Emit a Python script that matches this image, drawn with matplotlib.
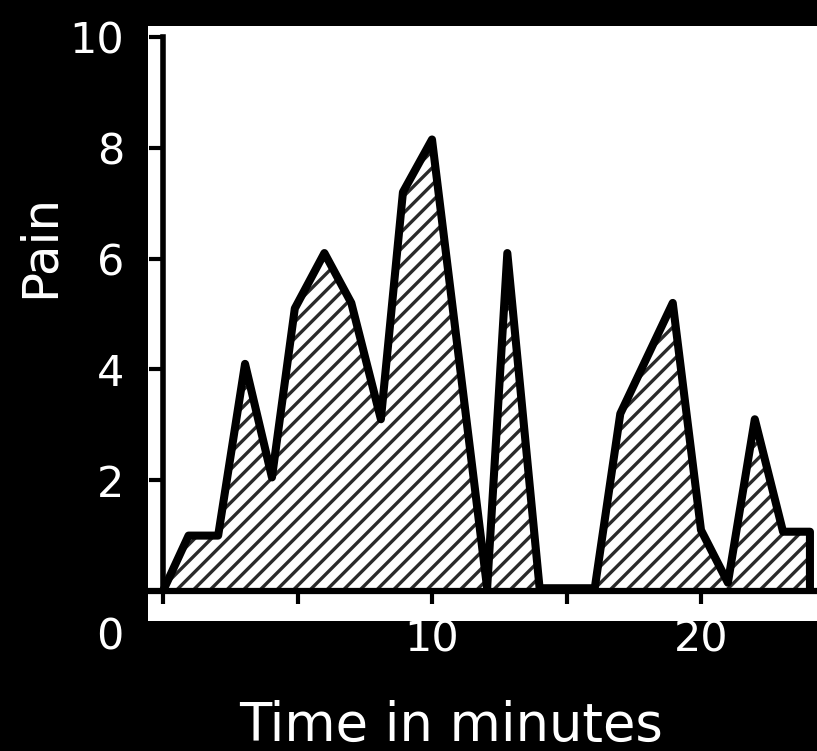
import matplotlib
matplotlib.use("Agg")
import matplotlib.pyplot as plt

# Data
minutes = [0, 0.95, 2.05, 3.05, 4.05, 4.9, 6.0, 7.0, 8.1, 8.92, 10.0, 12.05, 12.8, 14.0, 16.05, 17.0, 18.95, 20.0, 21.0, 22.0, 23.05, 24.05, 24.05]
pain = [0, 1.0, 1.0, 4.1, 2.05, 5.1, 6.1, 5.2, 3.1, 7.2, 8.15, 0.05, 6.1, 0.05, 0.05, 3.2, 5.2, 1.1, 0.15, 3.1, 1.07, 1.07, 0]

y_ticks = [2, 4, 6, 8, 10]
y_tick_labels = ["2", "4", "6", "8", "10"]
x_ticks = [0, 5, 10, 15, 20]
x_tick_labels = ["", "", "10", "", "20"]
origin_label = "0"
x_label = "Time in minutes"
y_label = "Pain"

plt.rcParams["font.family"] = ["DejaVu Sans"]
plt.rcParams["hatch.linewidth"] = 2.4

W, H = 817, 751
fig = plt.figure(figsize=(W / 100, H / 100), dpi=100, facecolor="black")

left, right, top, bottom = 148, 817, 26, 621
ax = fig.add_axes([left / W, 1 - bottom / H, (right - left) / W, (bottom - top) / H])
ax.set_facecolor("white")

x0_px, px_per_min = 163, 26.9
y0_px, px_per_unit = 591, 55.4
ax.set_xlim((left - x0_px) / px_per_min, (right - x0_px) / px_per_min)
ax.set_ylim((y0_px - bottom) / px_per_unit, (y0_px - top) / px_per_unit)

ax.fill_between(minutes, pain, 0, facecolor="white", edgecolor="#2a2a2a",
                hatch="//", linewidth=0, zorder=2)
ax.plot(minutes, pain, color="black", lw=5.8, solid_joinstyle="round",
        solid_capstyle="butt", zorder=3)

for s in ["top", "right"]:
    ax.spines[s].set_visible(False)
ax.spines["left"].set_position(("data", 0))
ax.spines["bottom"].set_position(("data", 0))
ax.spines["left"].set_bounds(0, 10)
ax.spines["left"].set_linewidth(4.0)
ax.spines["bottom"].set_linewidth(4.5)
ax.spines["left"].set_zorder(4)
ax.spines["bottom"].set_zorder(4)

ax.set_yticks(y_ticks)
ax.set_yticklabels(y_tick_labels)
ax.set_xticks(x_ticks)
ax.set_xticklabels(x_tick_labels)
ax.tick_params(axis="y", direction="out", length=10, width=3, color="black",
               labelcolor="white", labelsize=31, pad=18)
ax.tick_params(axis="x", direction="out", length=9, width=3, color="black",
               labelcolor="white", labelsize=31, pad=11)

fig.text(110 / W, 1 - 637 / H, origin_label, color="white", fontsize=31,
         ha="center", va="center")
fig.text(451 / W, 1 - 726 / H, x_label, color="white", fontsize=38,
         ha="center", va="center")
fig.text(40 / W, 1 - 246 / H, y_label, color="white", fontsize=36,
         ha="center", va="center", rotation=90)

fig.savefig("out.png", dpi=100, facecolor="black")
